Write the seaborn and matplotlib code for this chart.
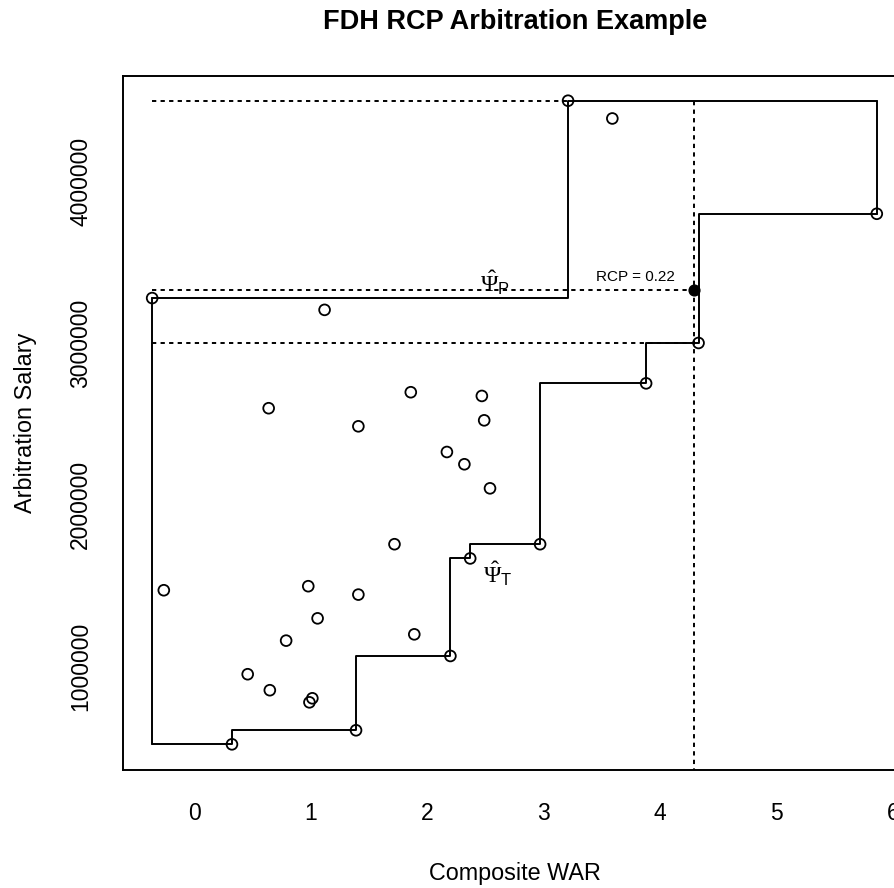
import numpy as np
import pandas as pd
import matplotlib
matplotlib.use("Agg")
import matplotlib.pyplot as plt
import seaborn as sns

# ---- data -------------------------------------------------------------
# players on the lower (cost) FDH frontier, sorted by composite WAR
lower_war = [0.325, 1.39, 2.20, 2.37, 2.97, 3.88, 4.33, 5.86]
lower_salary = [515000, 602000, 1062000, 1666000, 1754000, 2750000, 3000000, 3800000]

# players on the upper FDH frontier
upper_war = [-0.36, 3.21]
upper_salary = [3278000, 4500000]

# remaining comparable players
other_war = [3.59, 1.12, 0.64, 1.86, 2.47, 1.41, 2.49, 2.17, 2.32, 2.54, 1.72,
             -0.26, 0.98, 1.41, 1.06, 0.79, 1.89, 0.46, 0.65, 1.015, 0.99]
other_salary = [4390000, 3205000, 2596000, 2695000, 2672000, 2484000, 2521000,
                2325000, 2249000, 2100000, 1754000, 1469000, 1494000, 1442000,
                1295000, 1157000, 1196000, 949000, 850000, 800000, 775000]

# player under arbitration and his relative compensation position
target_war = 4.295
rcp = 0.22
bracket_low = 3000000
bracket_high = 4500000

x_ticks = [0, 1, 2, 3, 4, 5, 6]
y_ticks = [1000000, 2000000, 3000000, 4000000]
y_tick_labels = ["1000000", "2000000", "3000000", "4000000"]

title = "FDH RCP Arbitration Example"
x_label = "Composite WAR"
y_label = "Arbitration Salary"

# ---- style --------------------------------------------------------------
sns.set_style("white")
plt.rcParams["font.family"] = ["Liberation Sans", "DejaVu Sans"]
plt.rcParams["text.color"] = "black"
plt.rcParams["axes.labelcolor"] = "black"
plt.rcParams["xtick.color"] = "black"
plt.rcParams["ytick.color"] = "black"
plt.rcParams["mathtext.fontset"] = "custom"
plt.rcParams["mathtext.rm"] = "Liberation Serif"
plt.rcParams["mathtext.sf"] = "Liberation Sans"
plt.rcParams["mathtext.it"] = "Liberation Serif:italic"

players = pd.DataFrame({
    "war": lower_war + upper_war + other_war,
    "salary": lower_salary + upper_salary + other_salary,
})

fig = plt.figure(figsize=(8.95, 8.88), dpi=100)
ax = fig.add_axes([123.5 / 895, 118 / 888, 782.3 / 895, 694 / 888])

LW = 1.4
dotted = (0, (2.2, 2.2))

# reference lines: salary bracket, target salary, target WAR
target_salary = bracket_low + rcp * (bracket_high - bracket_low)
x_left = upper_war[0]
ax.plot([x_left, upper_war[1]], [bracket_high, bracket_high], color="black",
        lw=LW, ls=dotted, zorder=2)
ax.plot([x_left, target_war], [target_salary, target_salary], color="black",
        lw=LW, ls=dotted, zorder=2)
ax.plot([x_left, lower_war[-2]], [bracket_low, bracket_low], color="black",
        lw=LW, ls=dotted, zorder=2)
ax.plot([target_war, target_war], [bracket_high, 0], color="black",
        lw=LW, ls=dotted, zorder=2)

# lower staircase, starting at the left edge of the hull
ax.step([x_left] + lower_war, [lower_salary[0]] + lower_salary, where="pre",
        color="black", lw=LW, zorder=3)
# left edge of the hull
ax.plot([x_left, x_left], [lower_salary[0], upper_salary[0]], color="black",
        lw=LW, zorder=3)
# upper staircase and the right edge down to the last lower-frontier player
ax.step([upper_war[0], upper_war[1], lower_war[-1]],
        [upper_salary[0], upper_salary[1], upper_salary[1]], where="post",
        color="black", lw=LW, zorder=3)
ax.plot([lower_war[-1], lower_war[-1]], [upper_salary[1], lower_salary[-1]],
        color="black", lw=LW, zorder=3)

# all players as open circles
sns.scatterplot(data=players, x="war", y="salary", ax=ax, marker="o",
                facecolor="none", edgecolor="black", linewidth=1.3, s=60,
                zorder=4)

# the arbitration case
ax.scatter([target_war], [target_salary], s=60, color="black", zorder=5)
ax.text(3.79, target_salary + 78000, f"RCP = {rcp:.2f}", ha="center",
        va="center", fontsize=11)

ax.text(2.58, 3375000, r"$\hat{\Psi}_{\mathsf{P}}$", ha="center", va="center",
        fontsize=17)
ax.text(2.61, 1570000, r"$\hat{\Psi}_{\mathsf{T}}$", ha="center", va="center",
        fontsize=17)

# axes in base-graphics look
ax.set_xlim(-0.606, 6.109)
ax.set_ylim(356000, 4653000)
ax.set_xticks(x_ticks)
ax.set_yticks(y_ticks)
ax.set_yticklabels(y_tick_labels, rotation=90, va="center")
ax.tick_params(axis="both", direction="out", length=11, width=LW,
               labelsize=16.5)
ax.tick_params(axis="x", pad=12)
ax.tick_params(axis="y", pad=11.5)
for side in ["left", "right", "top", "bottom"]:
    ax.spines[side].set_visible(True)
    ax.spines[side].set_linewidth(LW)
    ax.spines[side].set_color("black")

ax.set_xlabel(x_label, fontsize=16.8, labelpad=27)
ax.set_ylabel(y_label, fontsize=16.8, labelpad=23)
ax.set_title(title, fontsize=19.5, fontweight="bold", pad=34)

fig.savefig("out.png", dpi=100)
